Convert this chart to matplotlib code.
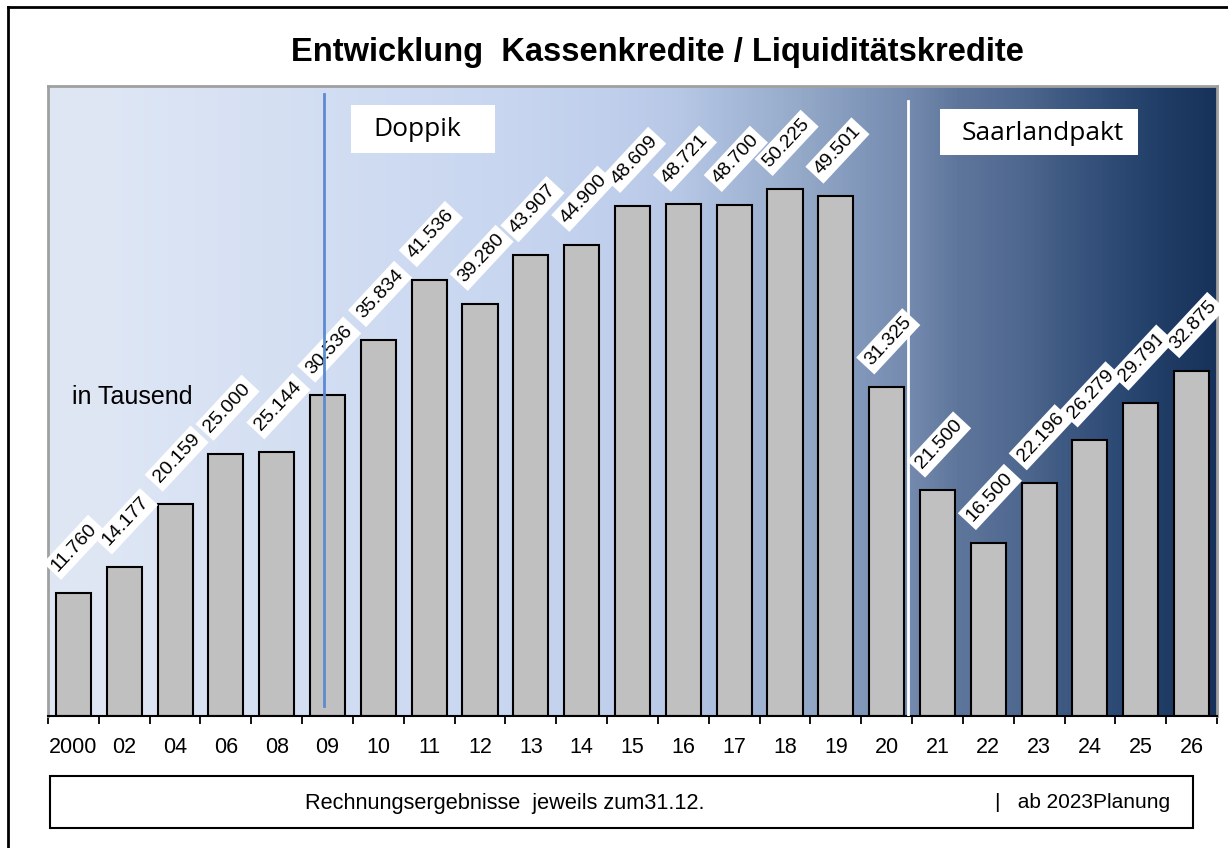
import numpy as np
import matplotlib
matplotlib.use("Agg")
import matplotlib.pyplot as plt
from matplotlib.colors import LinearSegmentedColormap
from matplotlib.patches import Rectangle
from matplotlib.lines import Line2D

# Daten (in Tausend)
jahre = ['2000', '02', '04', '06', '08', '09', '10', '11', '12', '13', '14', '15',
         '16', '17', '18', '19', '20', '21', '22', '23', '24', '25', '26']
kredite = [11760, 14177, 20159, 25000, 25144, 30536, 35834, 41536, 39280, 43907,
           44900, 48609, 48721, 48700, 50225, 49501, 31325, 21500, 16500, 22196,
           26279, 29791, 32875]

W, H = 1228, 848
fig = plt.figure(figsize=(W / 100, H / 100), dpi=100)
plt.rcParams['font.family'] = ['Liberation Sans', 'DejaVu Sans']

def fx(px):
    return px / W

def fy(py):
    return 1 - py / H

# Plotbereich
x0, x1, y0, y1 = 48, 1217, 86, 716
ax = fig.add_axes([fx(x0), fy(y1), (x1 - x0) / W, (y1 - y0) / H])

n = len(jahre)
x = np.arange(n)
ax.set_xlim(-0.5, n - 0.5)
ax.set_ylim(0, 60000)

# Hintergrund-Verlauf
farben = [(0.00, '#dee6f4'), (0.04, '#dfe7f5'), (0.39, '#c8d6f0'), (0.48, '#c0cfec'),
          (0.54, '#b7c8e6'), (0.60, '#a3b6d6'), (0.65, '#93a8c7'), (0.695, '#8298bb'),
          (0.74, '#7389ad'), (0.78, '#5f769c'), (0.83, '#506990'), (0.87, '#3f5a82'),
          (0.91, '#2f4c77'), (0.956, '#203d66'), (1.00, '#17325a')]
cmap = LinearSegmentedColormap.from_list('verlauf', farben)
grad = np.linspace(0, 1, 512).reshape(1, -1)
ax.imshow(grad, cmap=cmap, aspect='auto', extent=[-0.5, n - 0.5, 0, 60000], zorder=0)

ax.bar(x, kredite, width=0.69, color='#c0c0c0', edgecolor='black', linewidth=1.5, zorder=2)

# Trennlinien
ax.plot([4.93, 4.93], [1000, 59200], color='#5b8bd0', lw=2, zorder=5)
ax.plot([16.42, 16.42], [0, 58600], color='white', lw=2, zorder=3)

# Werte-Beschriftung
for xi, v in zip(x, kredite):
    txt = f'{v:,}'.replace(',', '.')
    ax.annotate(txt, xy=(xi - 0.345, v), xytext=(1.5, 15), textcoords='offset points',
                rotation=47, rotation_mode='anchor', ha='left', va='baseline',
                fontsize=14, zorder=4, annotation_clip=False,
                bbox=dict(boxstyle='square,pad=0.2', fc='white', ec='none'))

# Achsen
ax.set_xticks(np.arange(n + 1) - 0.5)
ax.set_xticklabels([])
ax.set_xticks(x, minor=True)
ax.set_xticklabels(jahre, minor=True, fontsize=15.5)
ax.tick_params(axis='x', which='major', direction='out', length=6, width=1.3, color='black')
ax.tick_params(axis='x', which='minor', length=0, pad=15)
ax.set_yticks([])
for s in ['left', 'top', 'right']:
    ax.spines[s].set_color('#a0a0a0')
    ax.spines[s].set_linewidth(2)
ax.spines['bottom'].set_color('black')
ax.spines['bottom'].set_linewidth(1.5)

# Titel
fig.text(fx(657), fy(52), 'Entwicklung  Kassenkredite / Liquiditätskredite',
         ha='center', va='center', fontsize=23.5, fontweight='bold')

# Textkästen
fig.patches.append(Rectangle((fx(351), fy(153)), (495 - 351) / W, 48 / H,
                             transform=fig.transFigure, fc='white', ec='none', zorder=6))
fig.text(fx(373), fy(130), 'Doppik', ha='left', va='center', fontsize=19,
         family=['Open Sans', 'DejaVu Sans'], zorder=7)
fig.patches.append(Rectangle((fx(940), fy(155)), (1138 - 940) / W, 46 / H,
                             transform=fig.transFigure, fc='white', ec='none', zorder=6))
fig.text(fx(962), fy(133), 'Saarlandpakt', ha='left', va='center', fontsize=19,
         family=['Open Sans', 'DejaVu Sans'], zorder=7)
fig.text(fx(72), fy(397), 'in Tausend', ha='left', va='center', fontsize=18)

# Fußzeile
fig.patches.append(Rectangle((fx(50), fy(828)), (1193 - 50) / W, 52 / H,
                             transform=fig.transFigure, fill=False, ec='black', lw=1.5))
fig.text(fx(505), fy(803), 'Rechnungsergebnisse  jeweils zum31.12.', ha='center',
         va='center', fontsize=15.7)
fig.text(fx(995), fy(803), '|   ab 2023Planung', ha='left', va='center', fontsize=15)

# äußerer Rahmen
fig.add_artist(Line2D([fx(8), 1], [fy(7), fy(7)], transform=fig.transFigure, color='black', lw=2))
fig.add_artist(Line2D([fx(8), fx(8)], [0, fy(7)], transform=fig.transFigure, color='black', lw=2))

fig.savefig('out.png', dpi=100)
